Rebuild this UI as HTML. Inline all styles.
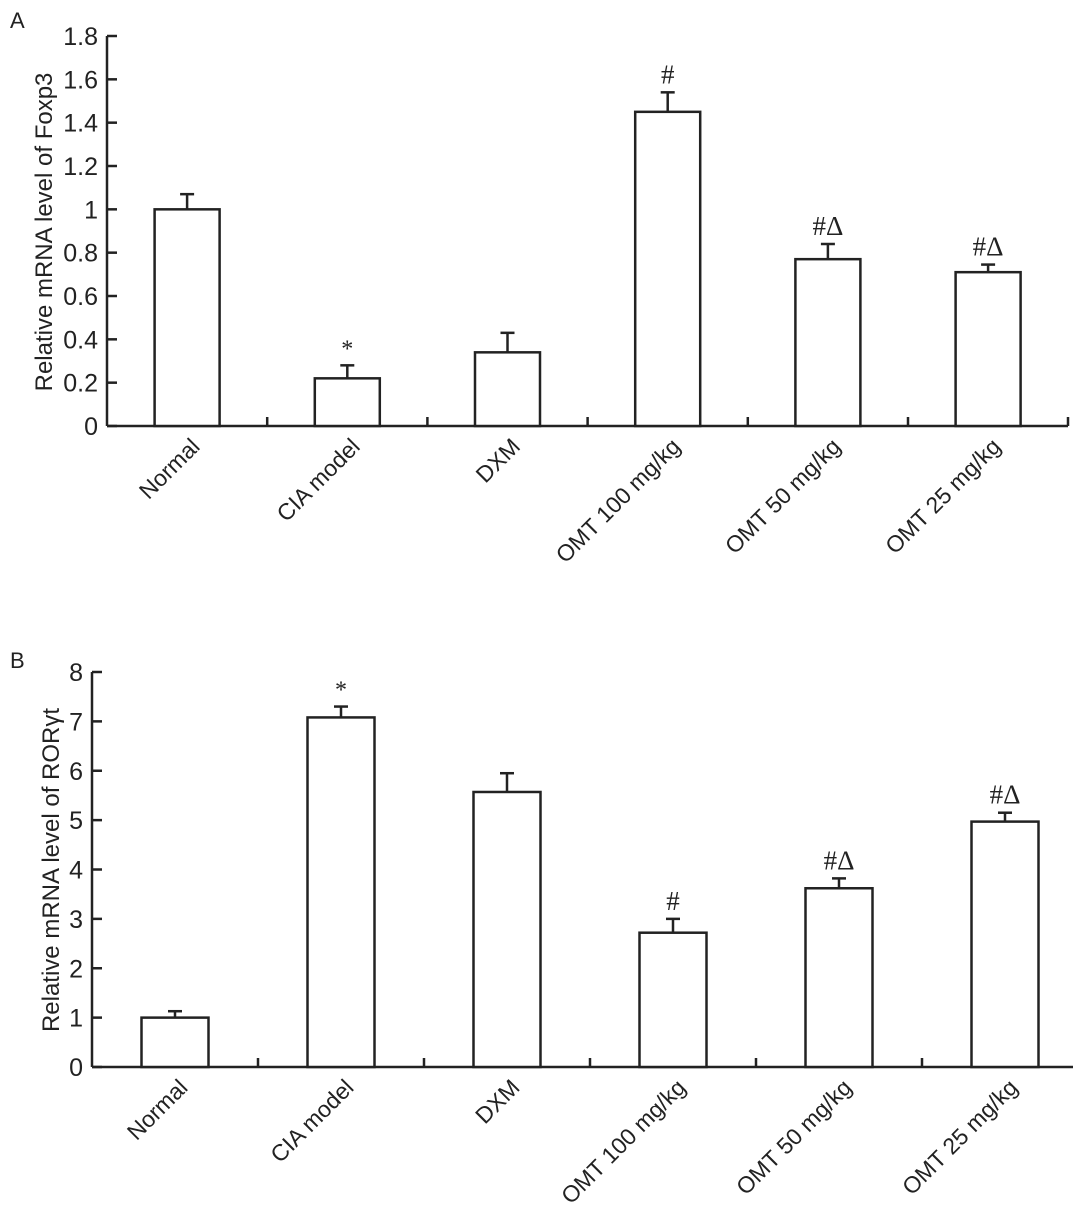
<!DOCTYPE html>
<html><head><meta charset="utf-8"><style>
html,body{margin:0;padding:0;background:#fff}
svg{display:block}
text{font-family:"Liberation Sans",Arial,sans-serif;fill:#222}
.ann{font-family:"Liberation Serif","DejaVu Serif",serif}
</style></head><body>
<svg id="chart" width="1084" height="1221" viewBox="0 0 1084 1221" xmlns="http://www.w3.org/2000/svg"></svg>
<script>
const categories = ["Normal","CIA model","DXM","OMT 100 mg/kg","OMT 50 mg/kg","OMT 25 mg/kg"];
const foxp3Values = [1.0,0.22,0.34,1.45,0.77,0.71];
const foxp3Errors = [0.07,0.06,0.09,0.09,0.07,0.035];
const foxp3Marks = ["","*","","#","#\u0394","#\u0394"];
const foxp3Ticks = ["0","0.2","0.4","0.6","0.8","1","1.2","1.4","1.6","1.8"];
const rorValues = [1.0,7.08,5.57,2.72,3.62,4.97];
const rorErrors = [0.13,0.22,0.38,0.28,0.2,0.18];
const rorMarks = ["","*","","#","#\u0394","#\u0394"];
const rorTicks = ["0","1","2","3","4","5","6","7","8"];

const NS="http://www.w3.org/2000/svg";
const svg=document.getElementById('chart');
function mk(tag,attrs,parent){const e=document.createElementNS(NS,tag);for(const k in attrs)e.setAttribute(k,attrs[k]);(parent||svg).appendChild(e);return e;}

function panel(cfg){
  const g=mk('g',{});
  
  
  const yMax=cfg.tickVals[cfg.tickVals.length-1];
  const y=v=>cfg.y0-(v/yMax)*(cfg.y0-cfg.yTop);
  const xc=i=>cfg.x0+cfg.bw*(i+0.5);
  const st={stroke:'#222','stroke-width':2.5,fill:'none'};
  const L=mk('text',{x:cfg.letterX,y:cfg.letterY,'font-size':22},g);L.textContent=cfg.letter;
  
  
  const ya=mk('line',Object.assign({x1:cfg.x0,y1:cfg.yTop,x2:cfg.x0,y2:cfg.y0},st),g);
  
  
  const xa=mk('line',Object.assign({x1:cfg.x0,y1:cfg.y0,x2:cfg.xEnd,y2:cfg.y0},st),g);
  
  
  cfg.tickVals.forEach((t,i)=>{
    const yy=y(+t);
    mk('line',Object.assign({x1:cfg.x0,y1:yy,x2:cfg.x0+10,y2:yy},st),g);
    const tx=mk('text',{x:cfg.x0-9,y:yy+9,'font-size':25,'text-anchor':'end'},g);tx.textContent=t;
    
    
  });
  for(let i=1;i<categories.length;i++){
    const xx=cfg.x0+cfg.bw*i;
    if(xx<=cfg.xEnd) mk('line',Object.assign({x1:xx,y1:cfg.y0,x2:xx,y2:cfg.y0-9},st),g);
  }
  if(cfg.endTick) mk('line',Object.assign({x1:cfg.xEnd,y1:cfg.y0,x2:cfg.xEnd,y2:cfg.y0-9},st),g);
  const yt=mk('text',{x:0,y:0,'font-size':24,'text-anchor':'middle',transform:`translate(${cfg.titleX},${cfg.titleY}) rotate(-90)`},g);
  yt.textContent=cfg.title;
  
  
  cfg.values.forEach((v,i)=>{
    const c=xc(i),top=y(v),et=y(v+cfg.errors[i]);
    mk('line',Object.assign({x1:c,y1:top,x2:c,y2:et},st),g);
    mk('line',Object.assign({x1:c-7,y1:et,x2:c+7,y2:et},st),g);
    const r=mk('rect',{x:c-cfg.barW/2,y:top,width:cfg.barW,height:cfg.y0-top,fill:'#fff',stroke:'#222','stroke-width':2.5},g);
    
    
    if(cfg.marks[i]){
      const a=mk('text',{x:c,y:et-9,'font-size':cfg.marks[i]==='*'?24:27,'text-anchor':'middle','class':'ann'},g);
      a.textContent=cfg.marks[i];
      
      
    }
    const lx=c+14,ly=cfg.y0+22;
    const lt=mk('text',{x:0,y:0,'font-size':23,'text-anchor':'end',transform:`translate(${lx},${ly}) rotate(-45)`},g);
    lt.textContent=categories[i];
    
    
  });
}
panel({name:'panel-a-foxp3',letter:'A',letterX:10,letterY:28,x0:107,xEnd:1068,endTick:true,bw:160.2,barW:65,y0:426,yTop:36,
  tickVals:foxp3Ticks,values:foxp3Values,errors:foxp3Errors,marks:foxp3Marks,title:'Relative mRNA level of Foxp3',titleX:52,titleY:232});
panel({name:'panel-b-rorgt',letter:'B',letterX:10,letterY:668,x0:92,xEnd:1073,endTick:false,bw:166,barW:67,y0:1067,yTop:672,
  tickVals:rorTicks,values:rorValues,errors:rorErrors,marks:rorMarks,title:'Relative mRNA level of ROR\u03B3t',titleX:59,titleY:870});
</script>
</body></html>
